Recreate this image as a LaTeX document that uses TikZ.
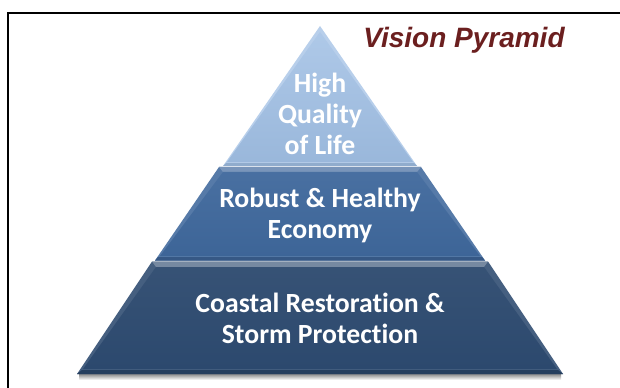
\documentclass[tikz,border=0pt]{standalone}
\usepackage{fontspec}
\newfontfamily\tierfont{Carlito}[Ligatures=NoCommon]
\newfontfamily\titlefont{Liberation Sans}
\definecolor{tierlight}{HTML}{A0BFE4}
\definecolor{tiermid}{HTML}{3F689C}
\definecolor{tierdark}{HTML}{2C496E}
\definecolor{titlered}{HTML}{6B1F1F}
\tikzset{
  tierlabel/.style={text=white, align=center, inner sep=0pt,
    font=\tierfont\bfseries\fontsize{20.8}{23.25}\selectfont},
  titlelabel/.style={text=titlered, inner sep=0pt,
    font=\titlefont\bfseries\itshape\fontsize{21}{24}\selectfont}
}

\begin{document}
\begin{tikzpicture}[x=0.75pt, y=-0.75pt]
\useasboundingbox (0,0) rectangle (620,388);
\fill[white] (0,0) rectangle (620,388);
% Frame
\draw[line width=1.5pt] (8,400) -- (8,13) -- (630,13);
% Shadow under the base
\shade[top color=black!45, bottom color=white] (79,374) rectangle (561,380);
% Base tier
\fill[tierdark!88!white] (152,261.5) -- (488,261.5) -- (563,374) -- (77,374) -- cycle;
\fill[tierdark!65!white] (152,261.5) -- (488,261.5) -- (484,267) -- (156,267) -- cycle;
\fill[tierdark!85!black] (82,370) -- (558,370) -- (563,374) -- (77,374) -- cycle;
\shade[top color=tierdark!95!white, bottom color=tierdark] (156,267) -- (484,267) -- (557,369) -- (83,369) -- cycle;
% Middle tier
\fill[tiermid!88!white] (219,167) -- (421,167) -- (485,260.5) -- (155,260.5) -- cycle;
\fill[tiermid!70!white] (219,167) -- (421,167) -- (417,172) -- (223,172) -- cycle;
\fill[tiermid!85!black] (158,257) -- (482,257) -- (485,260.5) -- (155,260.5) -- cycle;
\shade[top color=tiermid!95!white, bottom color=tiermid!97!black] (223,172) -- (417,172) -- (480,256) -- (160,256) -- cycle;
% Top tier
\fill[tierlight!75!white] (320,26) -- (417,166) -- (223,166) -- cycle;
\fill[tierlight!90!black] (226,163) -- (414,163) -- (417,166) -- (223,166) -- cycle;
\shade[top color=tierlight!85!white, bottom color=tierlight!96!black] (320,32) -- (413,162) -- (227,162) -- cycle;
% Labels
\node[tierlabel] (life) at (320,114) {High\\Quality\\of Life};
\node[tierlabel] (economy) at (320,215) {Robust \& Healthy\\Economy};
\node[tierlabel] (coast) at (320,318) {Coastal Restoration \&\\Storm Protection};
\node[titlelabel] (title) at (464,40) {Vision Pyramid};
\end{tikzpicture}
\end{document}
